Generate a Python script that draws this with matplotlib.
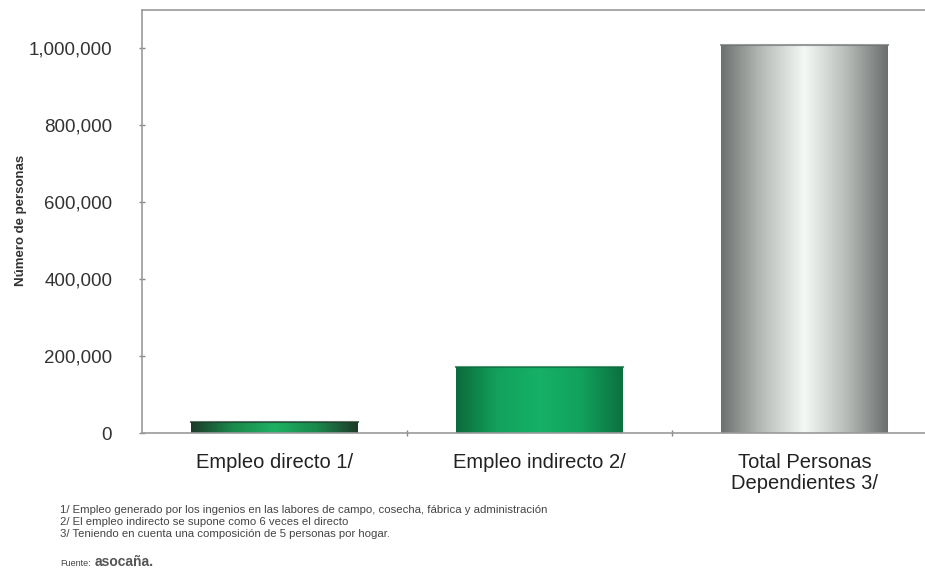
import numpy as np
import matplotlib.pyplot as plt
from matplotlib.colors import LinearSegmentedColormap
from matplotlib.ticker import FuncFormatter

plt.rcParams['font.family'] = ['Liberation Sans', 'DejaVu Sans']

categories = ["Empleo directo 1/", "Empleo indirecto 2/", "Total Personas\nDependientes 3/"]
values = [28500, 171000, 1010000]
yticks = [0, 200000, 400000, 600000, 800000, 1000000]
notes = [
    "1/ Empleo generado por los ingenios en las labores de campo, cosecha, fábrica y administración",
    "2/ El empleo indirecto se supone como 6 veces el directo",
    "3/ Teniendo en cuenta una composición de 5 personas por hogar.",
]

# edge -> centre -> edge colours for each bar
bar_colors = [
    ["#1d3b2a", "#1a8a4c", "#1fb063", "#1a8a4c", "#1d3b2a"],
    ["#0b6a3c", "#12a25c", "#16b066", "#12a25c", "#0b7040"],
    ["#6d7270", "#b8bdba", "#f5f9f5", "#b8bdba", "#6a6f6d"],
]

fig = plt.figure(figsize=(9.25, 5.81), dpi=100)
ax = fig.add_axes([142 / 925, 1 - 433 / 581, 795 / 925, 423 / 581])

x = np.arange(len(categories))
bars = ax.bar(x, values, width=0.627, color="none", edgecolor="none", zorder=2)

grad = np.linspace(0, 1, 256).reshape(1, -1)
for b, cols in zip(bars, bar_colors):
    cmap = LinearSegmentedColormap.from_list("g", cols)
    x0, w, h = b.get_x(), b.get_width(), b.get_height()
    im = ax.imshow(grad, cmap=cmap, aspect="auto", extent=[x0, x0 + w, 0, h],
                   zorder=2, interpolation="bicubic")
    im.set_clip_path(b)
    # darker rim along the top of each bar
    ax.plot([x0, x0 + w], [h, h], color=cols[0], lw=1.5, alpha=0.7, zorder=3)

ax.set_xlim(-0.5, 2.5)
ax.set_ylim(0, 1100000)
ax.set_yticks(yticks)
ax.yaxis.set_major_formatter(FuncFormatter(lambda v, p: f"{int(v):,}"))
ax.set_xticks([0.5, 1.5])
ax.set_xticklabels([])
ax.tick_params(axis="x", length=5, color="#888888", width=1, direction="inout")
ax.tick_params(axis="y", length=5, color="#888888", width=1, direction="inout",
               labelsize=13.5, labelcolor="#333333", pad=19)
for lab in ax.get_yticklabels():
    lab.set_fontweight("medium")
for i, lab in enumerate(categories):
    ax.text(x[i], -52000, lab, ha="center", va="top", fontsize=14.5,
            color="#222222", linespacing=1.15)

for s in ax.spines.values():
    s.set_color("#999999")
    s.set_linewidth(1.2)

fig.text(21 / 925, 1 - 220 / 581, "Número de personas", rotation=90,
         ha="center", va="center", fontsize=9.5, fontweight="bold", color="#333333")

for i, n in enumerate(notes):
    fig.text(60 / 925, 1 - (510 + i * 12) / 581, n, fontsize=8.2,
             color="#444444", va="center")
fig.text(60 / 925, 1 - 563 / 581, "Fuente:", fontsize=6.5, color="#444444", va="center")
fig.text(95 / 925, 1 - 562 / 581, "asocaña.", fontsize=10, fontweight="bold",
         color="#555555", va="center")

fig.savefig("out.png", dpi=100)
